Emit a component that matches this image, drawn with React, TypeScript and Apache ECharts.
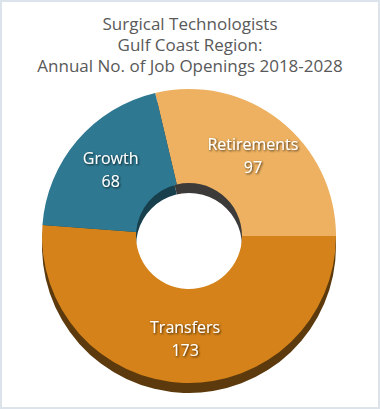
import React, { useEffect, useRef } from "react";
import * as echarts from "echarts";

const categories = ["Retirements", "Transfers", "Growth"];
const values = [97, 173, 68];
const topColors = ["#EDB161", "#D48219", "#2E7891"];
const sideColors = ["#3D3B3A", "#5C3A0D", "#173F4C"];
const titleLines = ["Surgical Technologists", "Gulf Coast Region:", "Annual No. of Job Openings 2018-2028"];

const FONT = "'Open Sans', sans-serif";

export default function App() {
  const ref = useRef<HTMLDivElement>(null);
  useEffect(() => {
    document.body.style.margin = "0";
    const chart = echarts.init(ref.current!, null, { renderer: "svg" });
    const cx = 187;
    const cy = 234;
    const depth = 10;
    const startAngle = 103.3;
    chart.setOption({
      animation: false,
      backgroundColor: "#ffffff",
      title: {
        text: titleLines.join("\n"),
        left: "center",
        top: 6,
        textStyle: {
          color: "#595959",
          fontSize: 17,
          fontWeight: "normal",
          fontFamily: FONT,
          lineHeight: 21,
        },
      },
      series: [
        {
          type: "pie",
          z: 1,
          center: [cx, cy + depth],
          radius: [0, 147],
          startAngle,
          clockwise: true,
          silent: true,
          label: { show: false },
          labelLine: { show: false },
          itemStyle: { borderWidth: 0 },
          data: categories.map((c, i) => ({
            name: c,
            value: values[i],
            itemStyle: { color: sideColors[i] },
          })),
        },
        {
          type: "pie",
          z: 2,
          center: [cx, cy + depth],
          radius: [0, 53],
          silent: true,
          label: { show: false },
          labelLine: { show: false },
          itemStyle: { borderWidth: 0, color: "#ffffff" },
          data: [{ name: "hole", value: 1 }],
        },
        {
          type: "pie",
          z: 3,
          center: [cx, cy],
          radius: [53, 147],
          startAngle,
          clockwise: true,
          itemStyle: { borderWidth: 0 },
          label: {
            show: true,
            position: "inside",
            formatter: "{b}\n{c}",
            color: "#ffffff",
            fontSize: 16,
            lineHeight: 23,
            fontFamily: FONT,
            textShadowColor: "rgba(0,0,0,0.75)",
            textShadowBlur: 2,
            textShadowOffsetX: 1,
            textShadowOffsetY: 1,
          },
          labelLine: { show: false },
          data: categories.map((c, i) => ({
            name: c,
            value: values[i],
            itemStyle: { color: topColors[i] },
          })),
        },
      ],
    });
    return () => chart.dispose();
  }, []);
  return (
    <div
      style={{
        width: 380,
        height: 409,
        boxSizing: "border-box",
        border: "2px solid #dde3ea",
        background: "#fff",
      }}
    >
      <div ref={ref} style={{ width: 376, height: 405 }} />
    </div>
  );
}
